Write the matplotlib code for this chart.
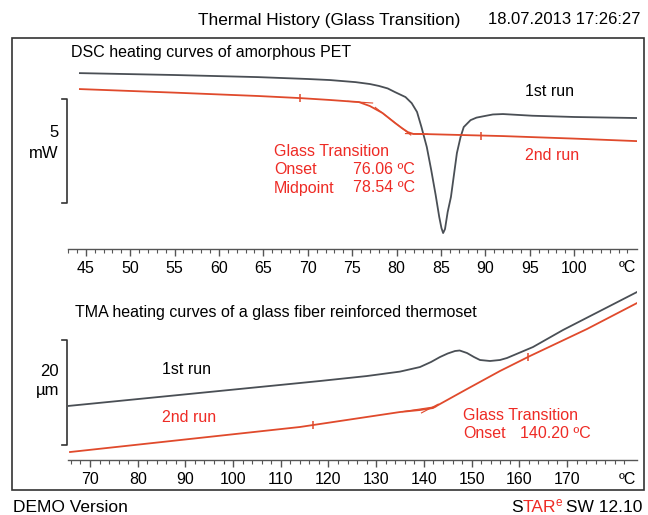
import numpy as np
import matplotlib.pyplot as plt
from matplotlib.patches import Rectangle

plt.rcParams['font.family'] = ['Liberation Sans', 'DejaVu Sans']

# DSC curves (temperature in degC, heat flow in mW, arbitrary offset)
dsc_t_1st = [44.34, 55.0, 64.4, 70.0, 72.5, 75.4, 77.0, 78.0, 79.0, 79.8, 81.0, 81.7,
             82.3, 82.8, 83.4, 83.9, 84.4, 84.8, 85.05, 85.24, 85.45, 85.75, 86.12, 86.79,
             87.2, 87.56, 88.33, 89.0, 90.09, 90.84, 91.97, 95.28, 100.0, 107.07]
dsc_1st = [7.95, 7.86, 7.76, 7.67, 7.62, 7.52, 7.43, 7.34, 7.22, 7.05, 6.81, 6.52,
           6.10, 5.38, 4.43, 3.33, 2.14, 1.10, 0.57, 0.33, 0.52, 1.33, 2.05, 4.14,
           4.90, 5.38, 5.71, 5.83, 5.92, 5.98, 6.00, 5.92, 5.86, 5.81]
dsc_t_2nd = [44.34, 55.0, 64.4, 69.15, 72.5, 75.76, 77.0, 78.41, 79.84, 80.6, 81.27,
             81.9, 82.82, 92.0, 100.0, 107.07]
dsc_2nd = [7.19, 7.02, 6.86, 6.76, 6.67, 6.57, 6.38, 6.05, 5.57, 5.33, 5.14,
           5.05, 5.05, 4.95, 4.83, 4.71]
dsc_limits = [69.15, 89.5]

# TMA curves (temperature in degC, length change in um, arbitrary offset)
tma_t_1st = [65.39, 114.03, 118.22, 128.0, 134.99, 139.18, 141.5, 143.38, 145.0, 146.52,
             147.5, 149.04, 150.5, 151.76, 153.86, 155.95, 157.42, 162.87, 169.16, 184.68]
tma_1st = [14.10, 18.48, 18.86, 19.80, 20.65, 21.52, 22.48, 23.43, 24.10, 24.57,
           24.67, 24.19, 23.43, 22.86, 22.67, 22.86, 23.24, 25.33, 28.57, 35.81]
tma_t_2nd = [65.81, 114.03, 134.99, 139.18, 141.91, 143.38, 149.04, 155.95, 162.24,
             174.19, 184.68]
tma_2nd = [5.33, 10.10, 12.95, 13.33, 13.71, 14.48, 17.33, 20.76, 23.62, 28.76, 33.71]
tma_limits = [116.75, 161.8]

dsc_ticks = [45, 50, 55, 60, 65, 70, 75, 80, 85, 90, 95, 100]
tma_ticks = [70, 80, 90, 100, 110, 120, 130, 140, 150, 160, 170]

BLACK = '#4a4f55'
RED_LINE = '#e04a2c'
RED_TEXT = '#ee2b25'
W, H = 648, 515
FS = 11.5


def fx(x):
    return x / W


def fy(y):
    return 1 - y / H


fig = plt.figure(figsize=(6.48, 5.15), dpi=100)
fig.patch.set_facecolor('white')

ax1 = fig.add_axes([fx(68), fy(249), fx(637) - fx(68), fy(62) - fy(249)])
ax2 = fig.add_axes([fx(68), fy(460), fx(637) - fx(68), fy(280) - fy(460)])


def style(ax, ticks, minor_step):
    for s in ['top', 'left', 'right']:
        ax.spines[s].set_visible(False)
    ax.spines['bottom'].set_color('#555555')
    ax.spines['bottom'].set_linewidth(1.0)
    ax.set_yticks([])
    ax.set_xticks(ticks)
    ax.set_xticks(np.arange(ticks[0] - 2 * minor_step, ticks[-1] + 7 * minor_step, minor_step), minor=True)
    ax.tick_params(axis='x', which='major', direction='out', length=5, width=1,
                   color='#555555', labelsize=11.5, pad=4)
    ax.tick_params(axis='x', which='minor', direction='out', length=3, width=0.8,
                   color='#555555')
    ax.patch.set_alpha(0)


# DSC panel
ax1.plot(dsc_t_1st, dsc_1st, color=BLACK, lw=1.3)
ax1.plot(dsc_t_2nd, dsc_2nd, color=RED_LINE, lw=1.3)
# construction tangents for onset evaluation
p_base = np.polyfit([69.15, 75.76], [6.76, 6.57], 1)
p_step = np.polyfit([78.41, 80.6], [6.05, 5.33], 1)
p_end = np.polyfit([82.82, 92.0], [5.05, 4.95], 1)
for p, (a, b) in [(p_base, (74.5, 77.3)), (p_step, (77.6, 81.6)), (p_end, (81.0, 83.5))]:
    xs = np.array([a, b])
    ax1.plot(xs, np.polyval(p, xs), color=RED_LINE, lw=0.8)
ax1.plot(dsc_limits, np.interp(dsc_limits, dsc_t_2nd, dsc_2nd), ls='none', marker='|',
         ms=6, mew=1.1, color=RED_LINE)
ax1.set_xlim(44.34, 107.07)
ax1.set_ylim(-0.43, 8.48)
style(ax1, dsc_ticks, 1)

# TMA panel
ax2.plot(tma_t_1st, tma_1st, color=BLACK, lw=1.3)
ax2.plot(tma_t_2nd, tma_2nd, color=RED_LINE, lw=1.3)
q_base = np.polyfit([114.03, 134.99], [10.10, 12.95], 1)
q_step = np.polyfit([149.04, 162.24], [17.33, 23.62], 1)
for q, (a, b) in [(q_base, (135.5, 142.5)), (q_step, (139.5, 143.0))]:
    xs = np.array([a, b])
    ax2.plot(xs, np.polyval(q, xs), color=RED_LINE, lw=0.8)
ax2.plot(tma_limits, np.interp(tma_limits, tma_t_2nd, tma_2nd), ls='none', marker='|',
         ms=6, mew=1.1, color=RED_LINE)
ax2.set_xlim(65.39, 184.68)
ax2.set_ylim(3.81, 38.10)
style(ax2, tma_ticks, 2)

# outer frame
fig.add_artist(Rectangle((fx(12), fy(490)), fx(644) - fx(12), fy(38) - fy(490),
                         transform=fig.transFigure, fill=False, lw=1.2, ec='#333333'))

# scale bars
for top, bot in [(99, 203), (340, 445)]:
    fig.add_artist(plt.Line2D([fx(62), fx(67), fx(67), fx(62)], [fy(top), fy(top), fy(bot), fy(bot)],
                              transform=fig.transFigure, color='#333333', lw=1.2))
fig.text(fx(59), fy(133), '5', ha='right', va='center', fontsize=12)
fig.text(fx(59), fy(153), 'mW', ha='right', va='center', fontsize=12)
fig.text(fx(59), fy(372), '20', ha='right', va='center', fontsize=12)
fig.text(fx(59), fy(391), 'µm', ha='right', va='center', fontsize=12)

# unit labels on the axes
fig.text(fx(627), fy(267), 'ºC', ha='center', va='center', fontsize=11.5)
fig.text(fx(627), fy(480), 'ºC', ha='center', va='center', fontsize=11.5)

# header and footer
fig.text(fx(198), fy(20), 'Thermal History (Glass Transition)', ha='left', va='center', fontsize=12.4)
fig.text(fx(641), fy(20), '18.07.2013 17:26:27', ha='right', va='center', fontsize=12)
fig.text(fx(13), fy(508), 'DEMO Version', ha='left', va='center', fontsize=12.5)

# panel texts
fig.text(fx(71), fy(53), 'DSC heating curves of amorphous PET', ha='left', va='center', fontsize=FS)
fig.text(fx(525), fy(91), '1st run', ha='left', va='center', fontsize=FS)
fig.text(fx(525), fy(156), '2nd run', ha='left', va='center', fontsize=FS, color=RED_TEXT)
fig.text(fx(274), fy(151), 'Glass Transition', ha='left', va='center', fontsize=FS, color=RED_TEXT)
fig.text(fx(274), fy(169), 'Onset', ha='left', va='center', fontsize=FS, color=RED_TEXT)
fig.text(fx(353), fy(169), '76.06 ºC', ha='left', va='center', fontsize=FS, color=RED_TEXT)
fig.text(fx(274), fy(188), 'Midpoint', ha='left', va='center', fontsize=FS, color=RED_TEXT)
fig.text(fx(353), fy(188), '78.54 ºC', ha='left', va='center', fontsize=FS, color=RED_TEXT)

fig.text(fx(75), fy(313), 'TMA heating curves of a glass fiber reinforced thermoset', ha='left',
         va='center', fontsize=FS)
fig.text(fx(162), fy(370), '1st run', ha='left', va='center', fontsize=FS)
fig.text(fx(162), fy(417), '2nd run', ha='left', va='center', fontsize=FS, color=RED_TEXT)
fig.text(fx(463), fy(415), 'Glass Transition', ha='left', va='center', fontsize=FS, color=RED_TEXT)
fig.text(fx(463), fy(434), 'Onset', ha='left', va='center', fontsize=FS, color=RED_TEXT)
fig.text(fx(520), fy(434), '140.20 ºC', ha='left', va='center', fontsize=FS, color=RED_TEXT)

# STARe SW 12.10 footer, assembled right to left
fig.canvas.draw()
r = fig.canvas.get_renderer()
t = fig.text(fx(642), fy(508), ' SW 12.10', ha='right', va='center', fontsize=12.5)
x0 = t.get_window_extent(r).x0
t = fig.text((x0 + 1) / W, fy(503), 'e', ha='right', va='center', fontsize=8.5, color=RED_TEXT)
x0 = t.get_window_extent(r).x0
t = fig.text((x0 + 1) / W, fy(508), 'TAR', ha='right', va='center', fontsize=12.5, color=RED_TEXT)
x0 = t.get_window_extent(r).x0
fig.text(x0 / W, fy(508), 'S', ha='right', va='center', fontsize=12.5)

fig.savefig('out.png', dpi=100, facecolor='white')
